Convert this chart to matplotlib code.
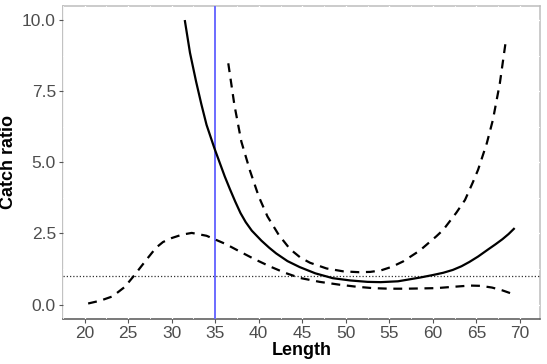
import numpy as np
import matplotlib
matplotlib.use('Agg')
import matplotlib.pyplot as plt
from matplotlib.ticker import MultipleLocator

plt.rcParams['font.family'] = ['Liberation Sans', 'DejaVu Sans']

# fitted catch ratio (solid)
est_x = [31.5, 32.1, 32.8, 33.4, 34.0, 34.9, 35.5, 36.1, 36.7, 37.3, 37.9, 38.5,
         39.2, 40.3, 41.2, 42.0, 43.3, 44.7, 46.5, 48.5, 50.5, 52.5, 54.0, 56.0,
         58.5, 60.0, 61.2, 62.3, 63.3, 64.2, 65.2, 66.4, 67.2, 68.0, 68.7, 69.4]
est_y = [10.0, 8.85, 7.84, 7.05, 6.32, 5.5, 5.0, 4.5, 4.05, 3.62, 3.22, 2.9,
         2.6, 2.25, 2.0, 1.8, 1.53, 1.32, 1.1, 0.93, 0.85, 0.8, 0.79, 0.82,
         0.95, 1.04, 1.12, 1.22, 1.35, 1.5, 1.69, 1.95, 2.12, 2.3, 2.48, 2.69]

# upper confidence band (dashed)
up_x = [36.5, 37.2, 38.0, 39.0, 40.0, 41.0, 42.3, 43.6, 44.8, 45.9, 47.8, 49.7,
        51.5, 52.8, 54.0, 55.3, 56.6, 58.5, 60.4, 61.2, 62.7, 63.7, 64.6, 65.2,
        66.2, 66.9, 67.7, 68.4]
up_y = [8.48, 7.02, 5.73, 4.7, 3.8, 3.1, 2.45, 1.95, 1.65, 1.47, 1.27, 1.17,
        1.14, 1.15, 1.2, 1.33, 1.52, 1.9, 2.4, 2.63, 3.23, 3.68, 4.3, 4.74,
        5.67, 6.49, 7.78, 9.3]

# lower confidence band (dashed)
lo_x = [20.4, 21.8, 23.2, 24.6, 25.6, 27.1, 28.2, 29.0, 30.0, 31.2, 32.3, 34.0,
        36.2, 37.8, 39.5, 41.3, 43.0, 44.7, 47.0, 49.3, 51.2, 53.1, 55.0, 57.0,
        60.4, 62.5, 64.3, 65.5, 66.8, 68.0, 69.4]
lo_y = [0.04, 0.14, 0.29, 0.62, 0.99, 1.58, 2.0, 2.2, 2.34, 2.46, 2.52, 2.42,
        2.13, 1.87, 1.6, 1.34, 1.12, 0.94, 0.8, 0.7, 0.63, 0.58, 0.56, 0.56,
        0.58, 0.63, 0.67, 0.66, 0.6, 0.5, 0.35]

ref_length = 35
ref_ratio = 1.0

fig = plt.figure(figsize=(5.47, 3.64), dpi=100)
ax = fig.add_axes([0.115, 0.124, 0.872, 0.86])

ax.axhline(ref_ratio, color='#333333', lw=0.9, ls=(0, (1, 1.6)), zorder=1.5)
ax.axvline(ref_length, color='#6060ff', lw=1.3, zorder=1.6)

dash = (0, (4, 3))
ax.plot(est_x, est_y, color='black', lw=1.6, solid_capstyle='butt',
        solid_joinstyle='round', zorder=3)
ax.plot(up_x, up_y, color='black', lw=1.6, ls=dash, dash_capstyle='butt', zorder=3)
ax.plot(lo_x, lo_y, color='black', lw=1.6, ls=dash, dash_capstyle='butt', zorder=3)

ax.set_xlim(17.5, 72.3)
ax.set_ylim(-0.5, 10.5)
ax.xaxis.set_major_locator(MultipleLocator(5))
ax.xaxis.set_minor_locator(MultipleLocator(2.5))
ax.yaxis.set_major_locator(MultipleLocator(2.5))
ax.yaxis.set_minor_locator(MultipleLocator(1.25))
ax.yaxis.set_major_formatter(matplotlib.ticker.FormatStrFormatter('%.1f'))

# white grid over the grey border, like the original theme
ax.set_axisbelow(True)
ax.grid(which='major', color='white', lw=0.9)
ax.grid(which='minor', color='white', lw=0.6)
for side in ['top', 'right']:
    ax.spines[side].set_color('#bdbdbd')
ax.spines['left'].set_color('#b0b0b0')
ax.spines['bottom'].set_color('#555555')
for sp in ax.spines.values():
    sp.set_linewidth(1.1)
    sp.set_zorder(0.4)

ax.tick_params(which='major', length=3, width=0.8, color='#555555',
               labelsize=12.5, labelcolor='#4d4d4d', pad=2)
ax.tick_params(which='minor', length=0)

ax.set_xlabel('Length', fontsize=13, fontweight='bold', labelpad=1)
ax.set_ylabel('Catch ratio', fontsize=13, fontweight='bold', labelpad=4)

fig.savefig('out.png', dpi=100)
